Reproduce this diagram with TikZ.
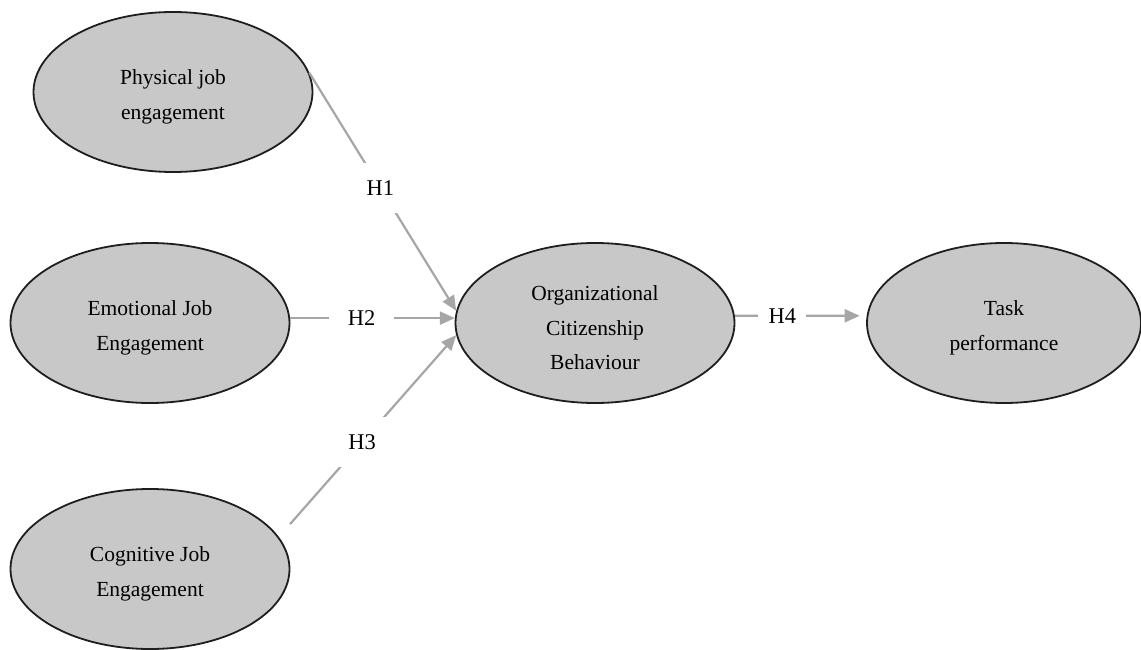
\documentclass[tikz,border=0pt]{standalone}
\usepackage{fontspec}
\setmainfont{Liberation Serif}
\usetikzlibrary{arrows.meta,shapes.geometric}
\definecolor{bubble}{HTML}{C8C8C8}
\definecolor{rim}{HTML}{1E1E1E}
\definecolor{linkgray}{HTML}{A6A6A6}
% taller first line pushes each caption a little below the ellipse centre
\newcommand{\toplift}{\rule{0pt}{25pt}}
\begin{document}
\begin{tikzpicture}[x=1pt,y=-1pt,
  construct/.style={ellipse, draw=rim, fill=bubble, line width=1.8pt,
    minimum width=279pt, minimum height=160pt, inner sep=0pt, align=center,
    font=\fontsize{21.5}{34.5}\selectfont},
  hyp/.style={draw=linkgray, line width=2.2pt, -{Triangle[length=15pt,width=13pt]}},
  hlab/.style={fill=white, inner sep=0pt, text=black,
    font=\fontsize{22.5}{27}\selectfont}
]
\useasboundingbox (0,0) rectangle (1141,650);

% constructs
\node[construct] (phys) at (173,92)  {\toplift Physical job\\engagement};
\node[construct] (emo)  at (150,323) {\toplift Emotional Job\\Engagement};
\node[construct] (cog)  at (150,569) {\toplift Cognitive Job\\Engagement};
\node[construct] (ocb)  at (595,323) {\toplift Organizational\\Citizenship\\Behaviour};
\node[construct, minimum width=274pt] (task) at (1004,323) {\toplift Task\\performance};

% hypotheses
\draw[hyp] (phys.8) -- node[hlab, pos=0.483, minimum width=36pt, minimum height=50pt] (h1) {H1} (ocb.175);
\draw[hyp] (emo.2) -- node[hlab, pos=0.434, minimum width=65pt, minimum height=20pt] (h2) {H2} (ocb.178);
\draw[hyp, shorten <=17pt] (cog.14) -- node[hlab, pos=0.47, minimum width=48pt, minimum height=50pt] (h3) {H3} (ocb.185);
\draw[hyp, shorten >=7pt] (ocb.3) -- node[hlab, pos=0.36, minimum width=48pt, minimum height=20pt] (h4) {H4} (task.177);
\end{tikzpicture}
\end{document}
